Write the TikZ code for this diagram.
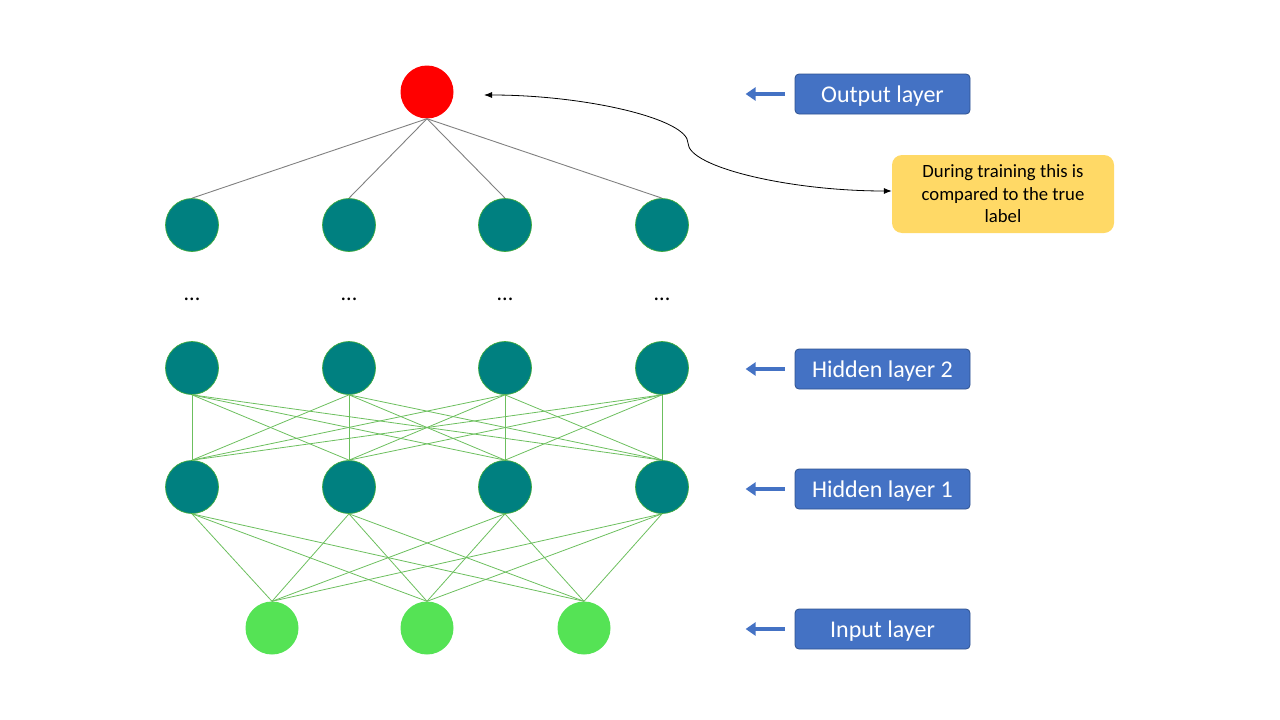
\documentclass[tikz,border=0pt]{standalone}
\usepackage{fontspec}
\setmainfont{Carlito}
\usetikzlibrary{arrows.meta}
\definecolor{tealfill}{HTML}{008080}
\definecolor{tealedge}{HTML}{3DAA3D}
\definecolor{inpfill}{HTML}{55E355}
\definecolor{linkgreen}{HTML}{6CBF5E}
\definecolor{linkgray}{HTML}{808080}
\definecolor{lblblue}{HTML}{4472C4}
\definecolor{lbledge}{HTML}{2F528F}
\definecolor{notefill}{HTML}{FFD966}
\tikzset{
  neuron/.style={circle, minimum size=53pt, inner sep=0pt},
  hid/.style={neuron, fill=tealfill, draw=tealedge, line width=0.7pt},
  inp/.style={neuron, fill=inpfill},
  outn/.style={neuron, fill=red},
  dotsnode/.style={font=\fontsize{22}{24}\selectfont, inner sep=0pt},
  glink/.style={draw=linkgreen, line width=0.8pt},
  olink/.style={draw=linkgray, line width=0.9pt},
  lbl/.style={rectangle, rounded corners=4pt, fill=lblblue, draw=lbledge, line width=0.8pt,
    minimum width=175pt, minimum height=40pt, text=white, text height=19pt, text depth=2pt,
    font=\fontsize{24}{28}\selectfont},
  barrow/.style={draw=lblblue, line width=4pt, -{Triangle[length=10pt,width=13pt]}},
  note/.style={rectangle, rounded corners=10pt, fill=notefill, minimum width=222pt,
    minimum height=78pt, align=center, font=\fontsize{18.7}{22.5}\selectfont},
  curvearrow/.style={draw=black, line width=0.8pt, {Latex[length=8pt,width=6pt]}-{Latex[length=8pt,width=6pt]}}
}
\begin{document}
\begin{tikzpicture}[x=1pt,y=-1pt]
\useasboundingbox (0,0) rectangle (1280,720);
% nodes
\node[outn] (o) at (427,92) {};
\foreach \i/\x in {1/192,2/349,3/505,4/662} {
  \node[hid] (t\i) at (\x,225) {};
  \node[dotsnode] (d\i) at (\x,299) {...};
  \node[hid] (b\i) at (\x,368) {};
  \node[hid] (a\i) at (\x,487) {};
}
\foreach \i/\x in {1/272,2/427,3/584} {
  \node[inp] (n\i) at (\x,628) {};
}
% output links
\foreach \i in {1,...,4} {
  \draw[olink] (o.south) -- (t\i.north);
}
% hidden 2 -> hidden 1
\foreach \i in {1,...,4} {
  \foreach \j in {1,...,4} {
    \draw[glink] (b\i.south) -- (a\j.north);
  }
}
% hidden 1 -> input
\foreach \i in {1,...,4} {
  \foreach \j in {1,...,3} {
    \draw[glink] (a\i.south) -- (n\j.north);
  }
}
% labels
\node[lbl] (L1) at (882.5,94) {Output layer};
\node[lbl] (L2) at (882.5,369) {Hidden layer 2};
\node[lbl] (L3) at (882.5,489) {Hidden layer 1};
\node[lbl] (L4) at (882.5,629) {Input layer};
\foreach \L in {L1,L2,L3,L4} {
  \draw[barrow] ([xshift=-10pt]\L.west) -- ([xshift=-49pt]\L.west);
}
% note
\node[note] (nt) at (1003,194) {During training this is\\compared to the true\\label};
\coordinate (tip) at (484,95);
\draw[curvearrow] (tip) .. controls (586,95) and (688,119) .. (688,143)
  .. controls (688,167) and (789,191) .. ([yshift=3pt]nt.west);
\end{tikzpicture}
\end{document}
